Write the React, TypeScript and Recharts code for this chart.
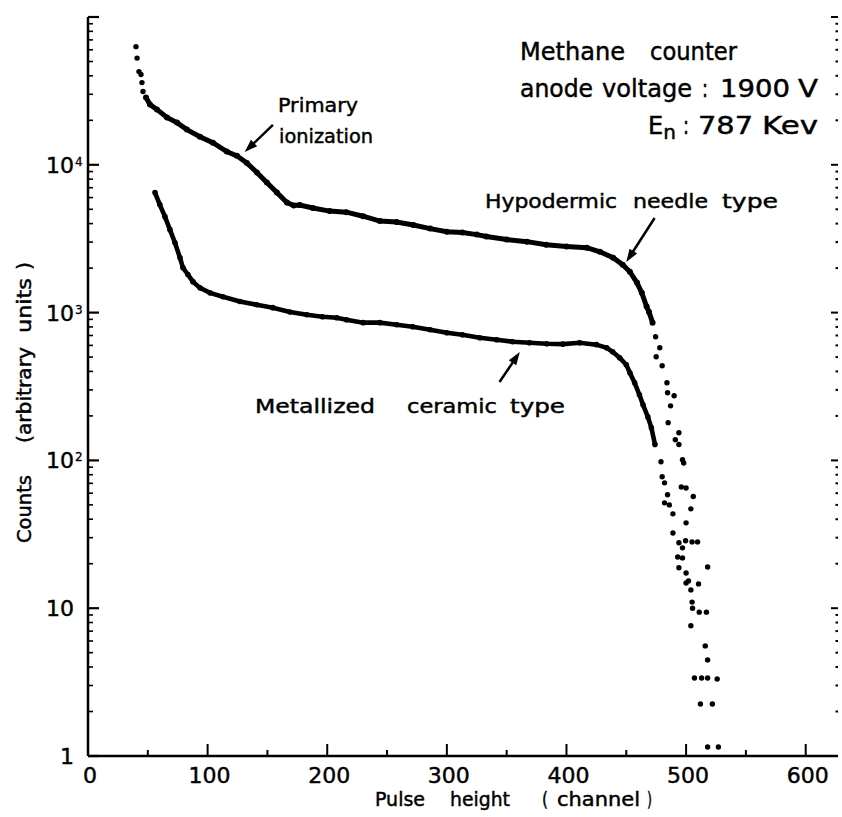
import React from 'react';
import { ScatterChart, Scatter, XAxis, YAxis } from 'recharts';

const W = 842;
const H = 817;
const PLOT = { left: 88, right: 838, top: 17, bottom: 756 };
const X_MAX = 627;
const FONT = 'DejaVu Sans, sans-serif';

// pulse height axis (channel)
const BOTTOM_TICKS = [0, 50, 100, 150, 200, 250, 300, 350, 400, 450, 500, 550, 600];
// the top frame ticks sit a few channels left of the bottom ones in the print
const TOP_TICKS = [45, 95, 145, 195, 245, 295, 345, 395, 445, 495, 545, 595];
// counts axis, log decades with minor ticks
const Y_TICKS = [
  1, 2, 3, 4, 5, 6, 7, 8, 9,
  10, 20, 30, 40, 50, 60, 70, 80, 90,
  100, 200, 300, 400, 500, 600, 700, 800, 900,
  1000, 2000, 3000, 4000, 5000, 6000, 7000, 8000, 9000,
  10000, 20000, 30000, 40000, 50000, 60000, 70000, 80000, 90000,
  100000,
];
const Y_LABELLED = [1, 10, 100, 1000, 10000];

// Hypodermic needle type: [channel, counts]
const needleBand: [number, number][] = [
  [48.5, 28500], [51.8, 25600], [57.6, 23700], [66, 20900], [74.4, 19300],
  [82.7, 17300], [93.6, 15500], [104.4, 14100], [116, 12300], [124.5, 11500],
  [132.8, 10300], [141.2, 8860], [149.5, 7580], [157.9, 6490], [166.3, 5550],
  [172, 5300], [177, 5350], [188, 5100], [202, 4860], [216, 4780], [230, 4490],
  [244, 4160], [258, 4100], [272, 3910], [286, 3700], [300, 3530], [313, 3480],
  [325, 3370], [333, 3270], [350, 3120], [367, 3020], [383, 2880], [400, 2800],
  [417, 2750], [428, 2580], [439, 2350], [447, 2110], [453, 1890], [459, 1590],
  [463, 1360], [467, 1100], [469, 1010], [472, 855],
];
const needleDots: [number, number][] = [
  [40.1, 63000], [41, 52700], [42.6, 42700], [44.3, 40800], [45.1, 36000], [46, 31300],
  [474.5, 687], [478, 578], [475, 503], [480, 437], [484, 335], [484.5, 287],
  [490, 274], [487, 234], [485, 180], [494, 154], [491, 138], [494, 128],
  [497, 101], [498, 96], [496, 66], [500, 65], [506, 57], [504, 47], [500, 37.8],
  [499.6, 28.6], [505, 28.1], [509.6, 28.1], [518, 19], [510.4, 14.6], [511, 9.4],
  [517, 9.4], [516, 5.56], [518, 4.47], [513, 3.37], [518, 3.37], [526, 3.32],
  [522, 2.25], [518, 1.15], [527, 1.15],
];

// Metallized ceramic type: [channel, counts]
const ceramicBand: [number, number][] = [
  [56, 6490], [60, 5380], [64.3, 4460], [68.5, 3640], [72.7, 2970], [76.9, 2350],
  [79.4, 2010], [83.5, 1810], [87.7, 1620], [93.6, 1470], [102, 1360], [112.8, 1280],
  [127, 1190], [141, 1130], [154.5, 1080], [168.8, 1010], [183, 968], [196, 938],
  [208, 923], [216, 895], [230, 855], [244, 855], [258, 828], [271.5, 803],
  [286, 766], [300, 731], [313, 708], [327.5, 676], [341.7, 655], [355, 635],
  [369, 625], [383.5, 615], [397, 612], [411, 625], [425, 607], [433.6, 578],
  [438.6, 543], [444.4, 495], [450, 444], [453, 392], [457, 335], [461, 278],
  [464, 238], [468, 197], [471, 166], [474, 128],
];
const ceramicDots: [number, number][] = [
  [479, 98], [480, 77.6], [482, 70.5], [484.5, 58.5], [482, 51.6], [486, 50],
  [489, 43.5], [489, 32.3], [494, 27.7], [497, 25.6], [493, 22.2], [497, 21.9],
  [494, 18.8], [500, 17.3], [500, 14.8], [502, 15.3], [504, 13.3], [505, 11],
  [505.4, 10], [504, 7.6], [507, 3.37], [512, 2.25],
];

// annotation arrows, tail -> tip in [channel, counts]
const ARROWS: { from: [number, number]; to: [number, number] }[] = [
  { from: [154.6, 18600], to: [131, 12200] },
  { from: [473.7, 4365], to: [450, 2200] },
  { from: [344, 339], to: [361, 541] },
];

// annotation words: [text, left px, right px]
type Word = [string, number, number];
const TITLE_1: Word[] = [['Methane', 520, 625], ['counter', 650, 737]];
const TITLE_2: Word[] = [['anode', 520, 593], ['voltage', 602, 692], [':', 702, 708], ['1900', 720, 790], ['V', 798, 818]];
const TITLE_3: Word[] = [[':', 683, 689], ['787', 698, 753], ['Kev', 762, 818]];
const PRIMARY: Word[] = [['Primary', 278, 358]];
const IONIZATION: Word[] = [['ionization', 279, 373]];
const NEEDLE: Word[] = [['Hypodermic', 485, 617], ['needle', 633, 708], ['type', 722, 778]];
const CERAMIC: Word[] = [['Metallized', 255, 375], ['ceramic', 407, 497], ['type', 510, 565]];
const X_TITLE: Word[] = [['Pulse', 375, 425], ['height', 450, 510], ['(', 542, 548], ['channel', 557, 640], [')', 647, 652]];
// y title, given as [text, bottom px, top px] since it runs upwards
const Y_TITLE: Word[] = [['Counts', 543, 475], ['(arbitrary', 443, 347], ['units', 333, 278], [')', 270, 262]];

const toPts = (d: [number, number][]) => d.map(([x, y]) => ({ x, y }));

const sx = (c: number) => PLOT.left + (c / X_MAX) * (PLOT.right - PLOT.left);
const sy = (v: number) => PLOT.bottom - (Math.log10(v) / 5) * (PLOT.bottom - PLOT.top);

const dot = (r: number) => (p: any) => <circle cx={p.cx} cy={p.cy} r={r} fill="#000" />;

const isDecade = (v: number) => Math.abs(Math.log10(v) - Math.round(Math.log10(v))) < 1e-9;

const ink = { fill: '#000', stroke: '#000', strokeWidth: 0.45, fontFamily: FONT };

function LeftTick({ x, y, payload }: any) {
  const v = payload.value;
  const major = isDecade(v);
  const e = Math.round(Math.log10(v));
  const labelled = Y_LABELLED.includes(v);
  return (
    <g>
      <line x1={x} y1={y} x2={x + (major ? 11 : 5)} y2={y} stroke="#000" strokeWidth={major ? 2.2 : 1.6} />
      {labelled && (
        <text {...ink} x={x - 14} y={y + 8} textAnchor="end" fontSize={22}>
          {e === 0 ? '1' : '10'}
        </text>
      )}
      {labelled && e >= 2 && (
        <text {...ink} strokeWidth={0.3} x={x - 13} y={y + 1} fontSize={12}>
          {e}
        </text>
      )}
    </g>
  );
}

function RightTick({ x, y, payload }: any) {
  const major = isDecade(payload.value);
  return <line x1={x} y1={y} x2={x - (major ? 7 : 2.5)} y2={y} stroke="#000" strokeWidth={2} />;
}

function BottomTick({ x, y, payload }: any) {
  const v = payload.value;
  const major = v % 100 === 0;
  return (
    <g>
      {v > 0 && <line x1={x} y1={y} x2={x} y2={y - (major ? 12 : 6)} stroke="#000" strokeWidth={2} />}
      {major && (
        <text {...ink} x={x + 2} y={y + 27} textAnchor="middle" fontSize={22}>
          {v}
        </text>
      )}
    </g>
  );
}

function TopTick({ x, y, payload }: any) {
  const major = (payload.value + 5) % 100 === 0;
  return <line x1={x} y1={y} x2={x} y2={y + (major ? 10 : 7)} stroke="#000" strokeWidth={2} />;
}

function Arrow({ from, to }: { from: [number, number]; to: [number, number] }) {
  const x1 = sx(from[0]);
  const y1 = sy(from[1]);
  const x2 = sx(to[0]);
  const y2 = sy(to[1]);
  const len = Math.hypot(x2 - x1, y2 - y1);
  const ux = (x2 - x1) / len;
  const uy = (y2 - y1) / len;
  const hl = 13;
  const hw = 4.5;
  const bx = x2 - ux * hl;
  const by = y2 - uy * hl;
  return (
    <g>
      <line x1={x1} y1={y1} x2={bx + ux * 2} y2={by + uy * 2} stroke="#000" strokeWidth={2.5} />
      <polygon
        points={`${x2},${y2} ${bx - uy * hw},${by + ux * hw} ${bx + uy * hw},${by - ux * hw}`}
        fill="#000"
      />
    </g>
  );
}

function Words({ words, y, size }: { words: Word[]; y: number; size: number }) {
  return (
    <>
      {words.map(([t, a, b], i) => (
        <text key={i} {...ink} x={a} y={y} fontSize={size} textLength={b - a} lengthAdjust="spacingAndGlyphs">
          {t}
        </text>
      ))}
    </>
  );
}

export default function App() {
  return (
    <div style={{ position: 'absolute', left: 0, top: 0, width: W, height: H, background: '#fff' }}>
      <ScatterChart width={W} height={H} margin={{ top: 17, right: 2, bottom: 0, left: 0 }}>
        <XAxis
          xAxisId="b"
          type="number"
          dataKey="x"
          domain={[0, X_MAX]}
          allowDataOverflow
          ticks={BOTTOM_TICKS}
          interval={0}
          height={61}
          tickSize={0}
          tickMargin={0}
          tickLine={false}
          axisLine={{ stroke: '#000', strokeWidth: 2.5 }}
          tick={(p: any) => <BottomTick {...p} />}
        />
        <XAxis
          xAxisId="t"
          orientation="top"
          type="number"
          dataKey="x"
          domain={[0, X_MAX]}
          allowDataOverflow
          ticks={TOP_TICKS}
          interval={0}
          height={0}
          tickSize={0}
          tickMargin={0}
          tickLine={false}
          axisLine={{ stroke: '#000', strokeWidth: 2.2 }}
          tick={(p: any) => <TopTick {...p} />}
        />
        <YAxis
          yAxisId="l"
          type="number"
          dataKey="y"
          scale="log"
          domain={[1, 100000]}
          allowDataOverflow
          ticks={Y_TICKS}
          interval={0}
          width={88}
          tickSize={0}
          tickMargin={0}
          tickLine={false}
          axisLine={{ stroke: '#000', strokeWidth: 2.5 }}
          tick={(p: any) => <LeftTick {...p} />}
        />
        <YAxis
          yAxisId="r"
          orientation="right"
          type="number"
          dataKey="y"
          scale="log"
          domain={[1, 100000]}
          allowDataOverflow
          ticks={Y_TICKS}
          interval={0}
          width={2}
          tickSize={0}
          tickMargin={0}
          tickLine={false}
          axisLine={false}
          tick={(p: any) => <RightTick {...p} />}
        />
        <Scatter
          name="Hypodermic needle type"
          xAxisId="b"
          yAxisId="l"
          data={toPts(needleBand)}
          line={{ stroke: '#000', strokeWidth: 5 }}
          shape={dot(3)}
          isAnimationActive={false}
        />
        <Scatter
          name="Hypodermic needle type (tail)"
          xAxisId="b"
          yAxisId="l"
          data={toPts(needleDots)}
          shape={dot(2.7)}
          isAnimationActive={false}
        />
        <Scatter
          name="Metallized ceramic type"
          xAxisId="t"
          yAxisId="r"
          data={toPts(ceramicBand)}
          line={{ stroke: '#000', strokeWidth: 4.6 }}
          shape={dot(2.8)}
          isAnimationActive={false}
        />
        <Scatter
          name="Metallized ceramic type (tail)"
          xAxisId="t"
          yAxisId="r"
          data={toPts(ceramicDots)}
          shape={dot(2.7)}
          isAnimationActive={false}
        />
      </ScatterChart>

      <svg
        width={W}
        height={H}
        style={{ position: 'absolute', left: 0, top: 0, pointerEvents: 'none' }}
      >
        {ARROWS.map((a, i) => (
          <Arrow key={i} from={a.from} to={a.to} />
        ))}

        <Words words={TITLE_1} y={60} size={24} />
        <Words words={TITLE_2} y={97} size={24} />
        <text {...ink} x={648} y={134} fontSize={24}>
          E<tspan fontSize={20} dy={5}>n</tspan>
        </text>
        <Words words={TITLE_3} y={134} size={24} />

        <Words words={PRIMARY} y={112} size={20} />
        <Words words={IONIZATION} y={143} size={20} />
        <Words words={NEEDLE} y={208} size={20} />
        <Words words={CERAMIC} y={413} size={20} />
        <Words words={X_TITLE} y={806} size={19} />

        <g transform="translate(31,0) rotate(-90)">
          {Y_TITLE.map(([t, b, a], i) => (
            <text key={i} {...ink} x={-b} y={0} fontSize={19} textLength={b - a} lengthAdjust="spacingAndGlyphs">
              {t}
            </text>
          ))}
        </g>
      </svg>
    </div>
  );
}
